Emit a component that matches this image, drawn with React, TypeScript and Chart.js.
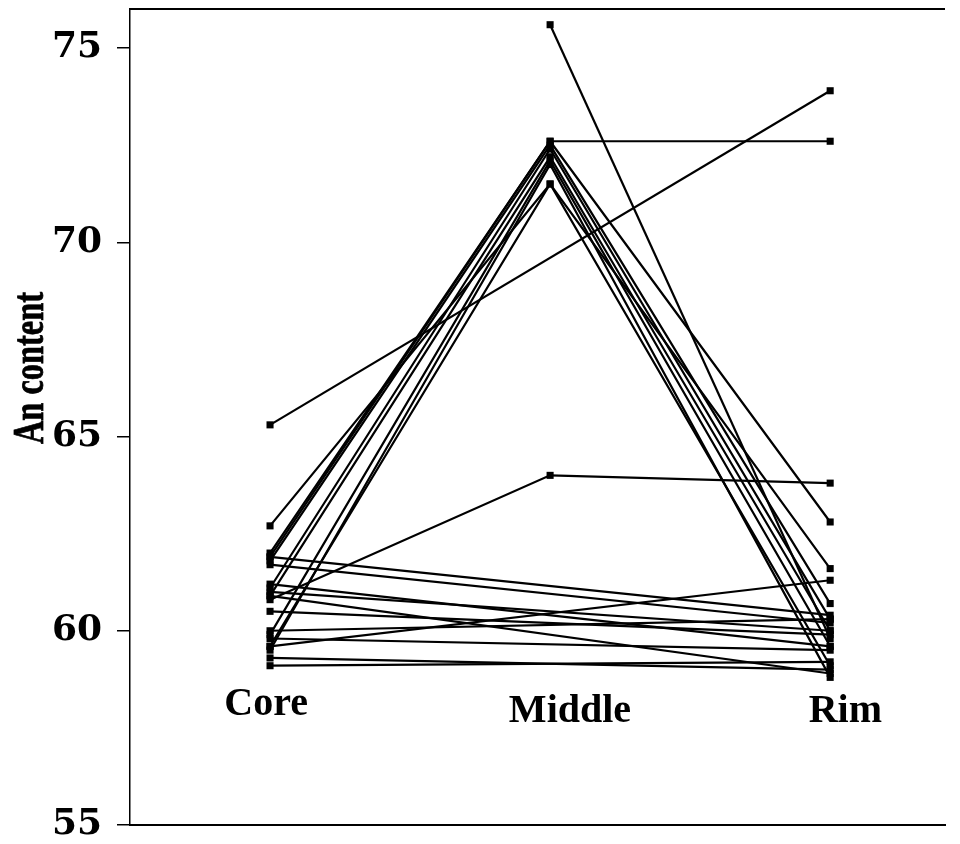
import { useEffect, useRef } from "react";
import { Chart, registerables } from "chart.js";

Chart.register(...registerables);

// Zone categories (x positions 1, 2, 3)
const categories = ["Core", "Middle", "Rim"];
const yTicks = [55, 60, 65, 70, 75];

// One entry per analysed crystal; null = zone not measured
const coreValues: (number | null)[] = [
  62.7, 62.0, 61.9, 61.8, 61.1, 60.9, 59.9, 59.6, 59.5,
  65.3, null, 60.8,
  61.9, 61.7, 61.2, 61.0, 60.5, 60.0, 59.8, 59.6, 59.3, 59.1, 60.9,
];
const middleValues: (number | null)[] = [
  71.5, 72.6, 72.6, 72.5, 72.4, 72.2, 72.1, 71.5, 72.0,
  null, 75.6, 64.0,
  null, null, null, null, null, null, null, null, null, null, null,
];
const rimValues: (number | null)[] = [
  61.6, 72.6, 62.8, 60.7, 60.3, 60.0, 59.6, 59.1, 58.8,
  73.9, 59.8, 63.8,
  60.4, 60.2, 59.6, 60.0, 59.9, 60.3, 59.5, 61.3, 59.0, 59.2, 58.9,
];

const overlayPlugin = {
  id: "overlay",
  afterDraw(chart: any) {
    const { ctx, chartArea, scales } = chart;
    ctx.save();
    // top frame line
    ctx.strokeStyle = "#000";
    ctx.lineWidth = 2;
    ctx.beginPath();
    ctx.moveTo(chartArea.left, chartArea.top + 1);
    ctx.lineTo(chartArea.right, chartArea.top + 1);
    ctx.stroke();
    // category labels inside plot
    ctx.fillStyle = "#000";
    ctx.font = "bold 40px 'Liberation Serif'";
    ctx.textAlign = "center";
    ctx.textBaseline = "middle";
    const labelPos = [
      [0.986, 58.09],
      [2.071, 57.91],
      [3.054, 57.91],
    ];
    categories.forEach((c, i) => {
      ctx.fillText(
        c,
        scales.x.getPixelForValue(labelPos[i][0]),
        scales.y.getPixelForValue(labelPos[i][1])
      );
    });
    // y axis title (condensed bold serif)
    ctx.translate(23, 360);
    ctx.rotate(-Math.PI / 2);
    ctx.scale(0.72, 1);
    ctx.font = "bold 45px 'Liberation Serif'";
    ctx.lineWidth = 0.8;
    ctx.strokeStyle = "#000";
    ctx.fillText("An content", 0, 0);
    ctx.strokeText("An content", 0, 0);
    ctx.restore();
  },
};

export default function App() {
  const canvasRef = useRef<HTMLCanvasElement | null>(null);

  useEffect(() => {
    if (!canvasRef.current) return;
    const datasets = coreValues.map((_, i) => ({
      label: "S" + (i + 1),
      data: [
        { x: 1, y: coreValues[i] },
        { x: 2, y: middleValues[i] },
        { x: 3, y: rimValues[i] },
      ],
      borderColor: "#000",
      backgroundColor: "#000",
      borderWidth: 2.2,
      pointStyle: "rect" as const,
      pointRadius: 5,
      pointBorderWidth: 0,
      spanGaps: true,
      tension: 0,
    }));

    const chart = new Chart(canvasRef.current, {
      type: "line",
      data: { datasets },
      plugins: [overlayPlugin],
      options: {
        animation: false,
        responsive: true,
        maintainAspectRatio: false,
        layout: { autoPadding: false, padding: { left: 0, top: 0, right: 7, bottom: 11 } },
        plugins: {
          legend: { display: false },
          tooltip: { enabled: false },
          title: { display: false },
        },
        scales: {
          x: {
            type: "linear",
            min: 0.5,
            max: 3.41,
            ticks: { display: false },
            grid: { display: false, drawTicks: false },
            border: { display: true, color: "#000", width: 2 },
            afterFit: (s: any) => {
              s.height = 0;
              s.paddingLeft = 0;
              s.paddingRight = 0;
            },
          },
          y: {
            type: "linear",
            min: 55,
            max: 76.03,
            afterBuildTicks: (s: any) => {
              s.ticks = yTicks.map((v) => ({ value: v }));
            },
            ticks: {
              color: "#000",
              padding: 15,
              font: { family: "'DejaVu Serif'", size: 36, weight: "bold" },
            },
            grid: {
              drawOnChartArea: false,
              drawTicks: true,
              tickLength: 13,
              color: "#000",
              lineWidth: 1.5,
            },
            border: { display: true, color: "#000", width: 1.5 },
            afterFit: (s: any) => {
              s.width = 122;
              s.paddingTop = 0;
              s.paddingBottom = 0;
            },
          },
        },
      },
    });
    return () => chart.destroy();
  }, []);

  return (
    <div style={{ width: 944, height: 828, position: "relative" }}>
      <canvas ref={canvasRef} />
    </div>
  );
}
